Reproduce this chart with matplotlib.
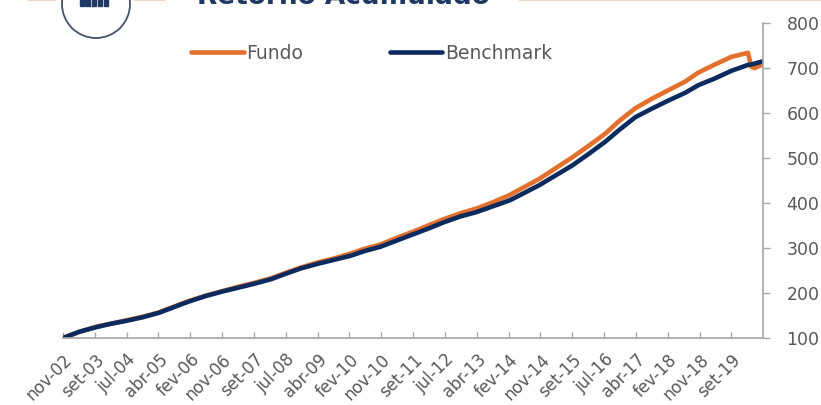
import matplotlib.pyplot as plt
from matplotlib.patches import Circle, Rectangle

# Retorno acumulado (base 100)
datas = ['2002-11', '2003-04', '2003-09', '2004-01', '2004-06', '2004-11',
         '2005-04', '2005-09', '2006-01', '2006-06', '2006-11', '2007-04',
         '2007-09', '2008-02', '2008-06', '2008-11', '2009-04', '2009-09',
         '2010-02', '2010-06', '2010-11', '2011-04', '2011-09', '2012-02',
         '2012-06', '2012-11', '2013-04', '2013-09', '2014-02', '2014-06',
         '2014-11', '2015-04', '2015-09', '2016-02', '2016-07', '2016-11',
         '2017-04', '2017-09', '2018-02', '2018-07', '2018-11', '2019-04',
         '2019-09', '2020-02', '2020-03', '2020-04', '2020-07']
benchmark = [100, 114, 124, 131, 138, 146, 156, 170, 181, 193, 203, 212,
             221, 231, 242, 255, 265, 274, 283, 293, 303, 317, 331, 345,
             357, 370, 380, 393, 406, 421, 440, 462, 484, 510, 537, 562,
             591, 610, 628, 645, 662, 677, 694, 707, 708, 710, 716]
fundo = [100, 114, 125, 131, 139, 147, 157, 171, 182, 194, 204, 214,
         223, 233, 244, 257, 268, 277, 288, 298, 308, 323, 337, 352,
         364, 377, 388, 402, 418, 434, 454, 478, 502, 528, 555, 582,
         611, 632, 651, 670, 690, 708, 725, 734, 703, 700, 710]

rotulos_x = ['nov-02', 'set-03', 'jul-04', 'abr-05', 'fev-06', 'nov-06',
             'set-07', 'jul-08', 'abr-09', 'fev-10', 'nov-10', 'set-11',
             'jul-12', 'abr-13', 'fev-14', 'nov-14', 'set-15', 'jul-16',
             'abr-17', 'fev-18', 'nov-18', 'set-19']


def meses(d):
    a, m = d.split('-')
    return (int(a) - 2002) * 12 + (int(m) - 11)


x = [meses(d) for d in datas]
passo = 202 / 21  # intervalo entre rótulos (meses)
ticks_x = [i * passo for i in range(len(rotulos_x))]

laranja = '#E4702E'
azul = '#0B2A5E'
cinza = '#A6A6A6'
texto = '#595959'

fig = plt.figure(figsize=(8.21, 4.05), dpi=100)
ax = fig.add_axes([0.0767, 0.1654, 0.8525, 0.7776])

ax.plot(x, fundo, color=laranja, lw=3.3, label='Fundo',
        solid_capstyle='round', solid_joinstyle='round')
ax.plot(x, benchmark, color=azul, lw=3.3, label='Benchmark',
        solid_capstyle='round', solid_joinstyle='round')

ax.set_xlim(0, 211.5)
ax.set_ylim(100, 800)
ax.set_yticks(range(100, 801, 100))
ax.yaxis.tick_right()
ax.set_xticks(ticks_x)
ax.set_xticklabels(rotulos_x, rotation=45, ha='right', va='top',
                   rotation_mode='anchor')

for s in ['top', 'left']:
    ax.spines[s].set_visible(False)
for s in ['bottom', 'right']:
    ax.spines[s].set_color(cinza)
    ax.spines[s].set_linewidth(1.2)

ax.tick_params(axis='x', direction='in', length=4, width=1, color=cinza,
               labelsize=12, labelcolor=texto, pad=9)
ax.tick_params(axis='y', direction='out', length=5, width=1, color=cinza,
               labelsize=12.5, labelcolor=texto, pad=12)

fig.legend(loc='center left', bbox_to_anchor=(0.233, 0.869), ncol=2,
           frameon=False, fontsize=13.5, handlelength=2.8, handletextpad=0.15,
           columnspacing=4.6, borderpad=0, borderaxespad=0, labelcolor=texto)

# cabeçalho (cortado no topo, como no original)
fig.text(0.24, 0.975, 'Retorno Acumulado', fontsize=19, fontweight='bold',
         color='#1F3864', va='bottom', ha='left')
for x0, x1 in [(0.035, 0.067), (0.165, 0.2), (0.633, 1.0)]:
    fig.add_artist(plt.Line2D([x0, x1], [0.999, 0.999], color='#F6D5C0', lw=1.5))
circ = Circle((0.96, 4.01), 0.34, transform=fig.dpi_scale_trans,
              facecolor='white', edgecolor='#44546A', lw=1.3)
fig.add_artist(circ)
for i in range(5):
    fig.add_artist(Rectangle((0.098 + i * 0.0072, 0.985), 0.005, 0.03,
                             transform=fig.transFigure, color='#1F3864'))

fig.savefig('out.png', dpi=100)
